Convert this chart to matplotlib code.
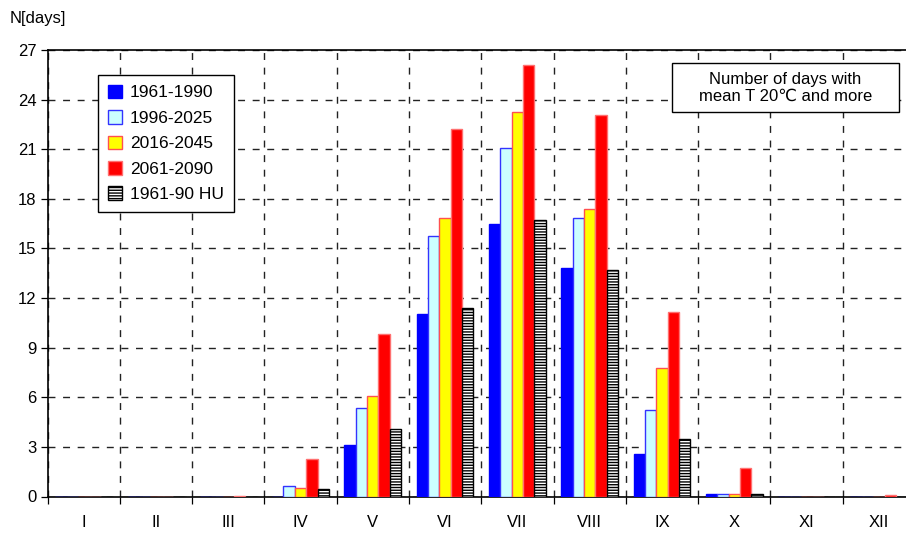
import matplotlib.pyplot as plt
import matplotlib.patches as mpatches
import numpy as np

plt.rcParams['font.family'] = ['Liberation Sans', 'DejaVu Sans']
plt.rcParams['hatch.linewidth'] = 1.0

months = ['I', 'II', 'III', 'IV', 'V', 'VI', 'VII', 'VIII', 'IX', 'X', 'XI', 'XII']

d_1961_1990 = [0, 0, 0, 0, 3.12, 11.05, 16.5, 13.8, 2.57, 0.17, 0, 0]
d_1996_2025 = [0, 0, 0, 0.63, 5.36, 15.77, 21.1, 16.85, 5.22, 0.17, 0, 0]
d_2016_2045 = [0, 0, 0, 0.53, 6.1, 16.85, 23.25, 17.4, 7.78, 0.15, 0, 0]
d_2061_2090 = [0, 0, 0.05, 2.25, 9.85, 22.2, 26.1, 23.05, 11.17, 1.72, 0, 0.07]
d_1961_90_hu = [0, 0, 0, 0.43, 4.1, 11.4, 16.7, 13.7, 3.46, 0.15, 0, 0]

series = [
    ('1961-1990', d_1961_1990, '#0000ff', '#0000ff', None),
    ('1996-2025', d_1996_2025, '#ccffff', '#3333ff', None),
    ('2016-2045', d_2016_2045, '#ffff00', '#ff5050', None),
    ('2061-2090', d_2061_2090, '#ff0000', '#ff7070', None),
    ('1961-90 HU', d_1961_90_hu, 'white', 'black', '------'),
]

fig = plt.figure(figsize=(9.06, 5.34), dpi=100)
ax = fig.add_axes([47.5 / 906, 37.5 / 534, 867.5 / 906, 446.5 / 534])

x = np.arange(len(months))
w = 0.157
handles = []
for i, (name, vals, fc, ec, hatch) in enumerate(series):
    off = (i - 2) * w
    b = ax.bar(x + off, vals, width=w, color=fc, edgecolor=ec, linewidth=1.0,
               hatch=hatch, zorder=3, label=name)
    handles.append(b)

ax.set_xlim(-0.5, 11.5)
ax.set_ylim(0, 27)
ax.set_yticks(np.arange(0, 28, 3))
ax.set_xticks(np.arange(-0.5, 11.6, 1))
ax.set_xticklabels([])
ax.set_xticks(x, minor=True)
ax.set_xticklabels(months, minor=True)
ax.tick_params(axis='x', which='minor', length=0, pad=13, labelsize=12)
ax.tick_params(axis='x', which='major', length=5, color='black', width=0.9)
ax.tick_params(axis='y', length=5, width=0.9, labelsize=12, pad=3)

dash = (0, (5, 5.5))
ax.xaxis.grid(True, which='major', color='#222222', linestyle=dash, linewidth=1.0, zorder=0)
ax.yaxis.grid(True, color='#222222', linestyle=dash, linewidth=1.0, zorder=0)
ax.set_axisbelow(True)
for s in ax.spines.values():
    s.set_color('black')
    s.set_linewidth(1.2)

fig.text(10 / 906, 1 - 18 / 534, 'N[days]', fontsize=12, va='center', ha='left')

leg = ax.legend(handles=handles, loc='upper left', bbox_to_anchor=(98 / 906, 1 - 75 / 534),
                bbox_transform=fig.transFigure, fontsize=12.5, handlelength=0.85, handleheight=0.85,
                handletextpad=0.45, labelspacing=0.55, borderpad=0.55, borderaxespad=0,
                fancybox=False, framealpha=1, edgecolor='black')
leg.get_frame().set_linewidth(1.0)

# info box in the upper right corner
box = mpatches.Rectangle((672 / 906, 1 - 112 / 534), 227 / 906, 49 / 534,
                         transform=fig.transFigure, facecolor='white', edgecolor='black',
                         linewidth=1.0, zorder=5)
fig.patches.append(box)
fig.text(785.5 / 906, 1 - 87.5 / 534, 'Number of days with\nmean T 20\u2103 and more',
         ha='center', va='center', fontsize=12, linespacing=1.15, zorder=6)

fig.savefig('out.png', dpi=100)
